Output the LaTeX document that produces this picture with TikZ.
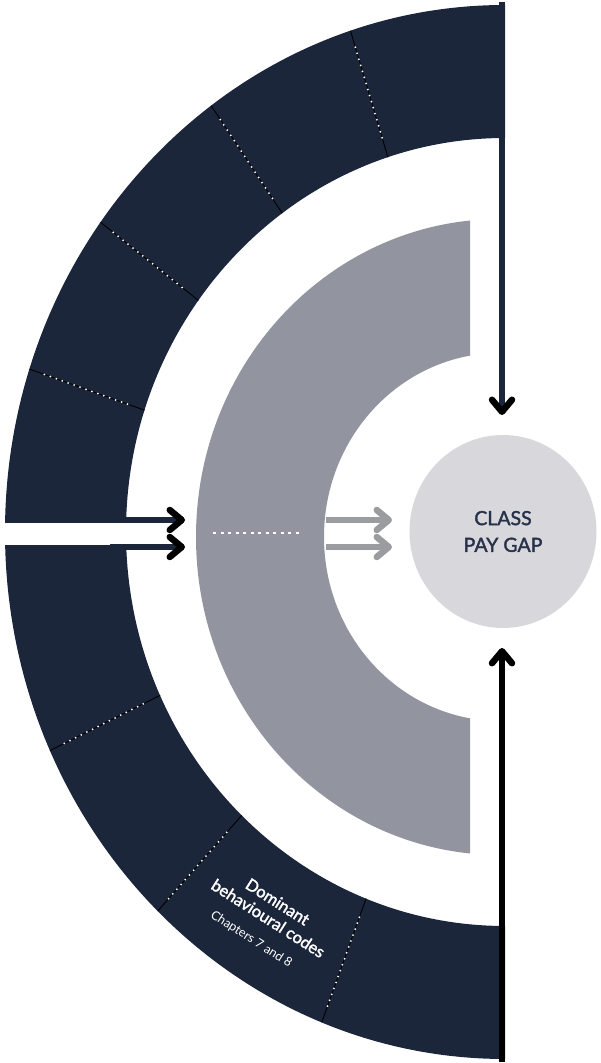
\documentclass[tikz,border=0pt]{standalone}
\usepackage{fontspec}
\setmainfont{Lato}
\newfontfamily\semifont[FakeBold=1.8]{Lato}
\usetikzlibrary{arrows.meta,calc,shapes.geometric}
\definecolor{navy}{HTML}{1B263A}
\definecolor{band}{HTML}{92959F}
\definecolor{disc}{HTML}{D8D8DC}
\definecolor{greyarrow}{HTML}{9B9CA0}
\definecolor{textnavy}{HTML}{27324A}
\tikzset{
  darkarrow/.style={draw=navy, line width=6pt,
    -{Straight Barb[length=12pt,width=20pt,line width=6.5pt,round,color=black]}},
  blackarrow/.style={draw=black, line width=6pt,
    -{Straight Barb[length=12pt,width=20pt,line width=6.5pt,round]}},
  greyarr/.style={draw=greyarrow, line width=6pt,
    -{Straight Barb[length=12pt,width=20pt,line width=6.5pt,round]}},
  sepline/.style={draw=black, line width=0.9pt},
  sepdots/.style={draw=white, line width=2pt, line cap=round, dash pattern=on 0pt off 6.3pt},
  banddots/.style={draw=white, line width=2.5pt, dash pattern=on 3pt off 4.5pt},
  codetext/.style={text=white, inner sep=0pt, rotate=-32.5}
}
\begin{document}
\begin{tikzpicture}[x=1pt,y=1pt]
\useasboundingbox (0,0) rectangle (600,1063);
\coordinate (C) at (505,531);
% dark outer half ring
\fill[navy] (505,1058) arc[start angle=90,end angle=270,x radius=500,y radius=527]
  -- (505,137) arc[start angle=270,end angle=90,x radius=379,y radius=394] -- cycle;
% white gap
\fill[white] (-2,518) rectangle (160,540);
% separators
\foreach \a [count=\k] in {108,126,144,162,204.5,226,248.5} {
  \path (C) ++(\a:500 and 527) coordinate (so\k);
  \path (C) ++(\a:379 and 394) coordinate (si\k);
  \draw[sepline] (so\k) -- (si\k);
  \draw[sepdots] ($(so\k)!0.13!(si\k)$) -- ($(so\k)!0.87!(si\k)$);
}
% grey C band
\begin{scope}
  \clip (0,0) rectangle (470,1063);
  \fill[band, even odd rule] (500,526) ellipse [x radius=304, y radius=318]
    (500,526) ellipse [x radius=176, y radius=184];
\end{scope}
\coordinate (bd1) at (213,530);
\coordinate (bd2) at (303,530);
\draw[banddots] (bd1) -- (bd2);
% central disc
\node[ellipse, fill=disc, minimum width=187pt, minimum height=193pt, inner sep=0pt,
  align=center, text=textnavy, font=\semifont\fontsize{19.5}{26.7}\selectfont]
  (gap) at (503,531.5) {CLASS\\PAY GAP};
% arrows
\coordinate (ts) at (502,1061);
\coordinate (te) at (502,648);
\coordinate (bs) at (502,1);
\coordinate (be) at (502,415);
\draw[darkarrow] (ts) -- (te);
\draw[blackarrow] (bs) -- (be);
\coordinate (l1s) at (110,543);
\coordinate (l1e) at (185,543);
\coordinate (l2s) at (110,516);
\coordinate (l2e) at (185,516);
\draw[darkarrow] (l1s) -- (l1e);
\draw[darkarrow] (l2s) -- (l2e);
\coordinate (g1s) at (326,543);
\coordinate (g1e) at (392,543);
\coordinate (g2s) at (326,516);
\coordinate (g2e) at (392,516);
\draw[greyarr] (g1s) -- (g1e);
\draw[greyarr] (g2s) -- (g2e);
% label in dark ring
\begin{scope}[shift={(268.3,144.7)}, rotate=-32.5]
  \node[codetext, font=\semifont\fontsize{16.5}{18}\selectfont] (dom) at (-1,19) {Dominant};
  \node[codetext, font=\semifont\fontsize{16.5}{18}\selectfont] (beh) at (0,0) {behavioural codes};
  \node[codetext, font=\fontsize{12.5}{14}\selectfont] (chap) at (-3,-27) {Chapters 7 and 8};
\end{scope}
\end{tikzpicture}
\end{document}
